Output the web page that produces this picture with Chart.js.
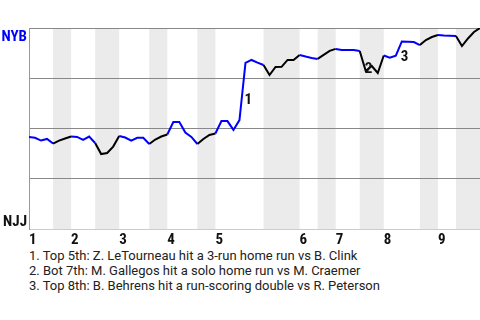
<!DOCTYPE html>
<html>
<head>
<meta charset="utf-8">
<script src="https://cdn.jsdelivr.net/npm/chart.js@4.4.0/dist/chart.umd.min.js"></script>
<style>
  html, body { margin: 0; padding: 0; background: #fff; }
  #wrap { position: relative; width: 480px; height: 248px; }
  #notes { font-family: Roboto, sans-serif; font-size: 13px; line-height: 15px; color: #222; padding-left: 29px; }
</style>
</head>
<body>
<div id="wrap"><canvas id="wp_chart"></canvas></div>
<div id="notes"></div>
<script>
// plate appearance index where each half inning starts (top 1st, bot 1st, ...), last = end of game
const halfStarts = [0, 4, 7, 11, 15, 20, 23, 28, 31, 39, 45, 48, 51, 55, 59, 65, 68, 71, 75];
const inningStarts = [0, 7, 15, 23, 31, 45, 51, 59, 68];
const inningLabels = ['1', '2', '3', '4', '5', '6', '7', '8', '9'];
const teamTop = 'NYB';
const teamBottom = 'NJJ';
// NYB win probability (%) after each plate appearance
const winProb = [
    45.8, 45.4, 44.0, 44.8, 42.5, 44.0, 45.0, 46.0, 45.8, 44.3,
    46.0, 42.8, 37.3, 37.8, 41.0, 46.3, 45.5, 44.0, 45.4, 45.4,
    42.3, 44.5, 46.0, 47.0, 53.2, 53.2, 48.0, 45.8, 42.3, 44.8,
    46.8, 47.5, 53.7, 53.7, 49.3, 54.2, 82.6, 84.1, 82.8, 81.6,
    76.6, 80.6, 80.7, 84.1, 84.1, 86.6, 85.8, 85.1, 84.6, 86.6,
    88.6, 89.6, 89.1, 89.1, 89.1, 88.6, 78.6, 81.1, 77.6, 86.3,
    85.2, 86.2, 93.3, 93.2, 93.0, 91.5, 94.0, 95.5, 96.5, 96.3,
    96.2, 96.0, 91.0, 94.8, 98.0, 100
];
const keyPlays = [36, 56, 62];
const notes = [
    '1. Top 5th: Z. LeTourneau hit a 3-run home run vs B. Clink',
    '2. Bot 7th: M. Gallegos hit a solo home run vs M. Craemer',
    '3. Top 8th: B. Behrens hit a run-scoring double vs R. Peterson'
];

document.addEventListener('DOMContentLoaded', function() {
    document.getElementById('notes').innerHTML = notes.map(n => '<div>' + n + '</div>').join('');

    function isTopHalf(i) {
        let h = 0;
        while (h + 1 < halfStarts.length && halfStarts[h + 1] <= i) h++;
        return h % 2 === 0;
    }

    const labelFamily = "'Roboto Condensed', 'Liberation Sans Narrow', Roboto, sans-serif";

    const halfBands = {
        id: 'halfBands',
        beforeDraw(chart) {
            const {ctx, chartArea: a, scales: {x}} = chart;
            ctx.save();
            ctx.fillStyle = '#ebebeb';
            for (let h = 1; h < halfStarts.length - 1; h += 2) {
                const x0 = x.getPixelForValue(halfStarts[h]);
                const x1 = x.getPixelForValue(halfStarts[h + 1]);
                ctx.fillRect(x0, a.top, x1 - x0, a.bottom - a.top);
            }
            ctx.restore();
        }
    };

    const playLabels = {
        id: 'playLabels',
        afterDatasetsDraw(chart) {
            const {ctx, scales: {x, y}} = chart;
            ctx.save();
            ctx.font = 'bold 15px ' + labelFamily;
            ctx.fillStyle = '#111';
            ctx.textAlign = 'left';
            ctx.textBaseline = 'alphabetic';
            keyPlays.forEach((pa, k) => {
                const mx = (x.getPixelForValue(pa - 1) + x.getPixelForValue(pa)) / 2;
                const my = (y.getPixelForValue(winProb[pa - 1]) + y.getPixelForValue(winProb[pa])) / 2;
                ctx.fillText(String(k + 1), mx + 2, my + 12);
            });
            ctx.restore();
        }
    };

    const axisFont = {family: labelFamily, weight: 'bold', size: 15};

    new Chart(document.getElementById('wp_chart'), {
        type: 'line',
        data: {
            datasets: [{
                label: 'Win probability',
                data: winProb.map((v, i) => ({x: i, y: v})),
                borderWidth: 2,
                pointRadius: 0,
                tension: 0,
                borderColor: '#0000ff',
                segment: {
                    borderColor: c => isTopHalf(c.p0DataIndex) ? '#0000ff' : '#000000'
                }
            }]
        },
        options: {
            responsive: true,
            maintainAspectRatio: false,
            animation: false,
            layout: {padding: {top: 28, left: 0, right: 0, bottom: 0}},
            scales: {
                x: {
                    type: 'linear',
                    min: 0,
                    max: halfStarts[halfStarts.length - 1],
                    afterBuildTicks: s => { s.ticks = inningStarts.map(v => ({value: v})); },
                    afterFit: s => { s.height = 19; s.paddingLeft = 0; s.paddingRight = 0; },
                    grid: {display: false},
                    border: {display: true, color: '#cccccc'},
                    ticks: {
                        align: 'start',
                        autoSkip: false,
                        maxRotation: 0,
                        padding: -6,
                        color: '#111',
                        font: axisFont,
                        callback: (v, i) => inningLabels[i]
                    }
                },
                y: {
                    min: 0,
                    max: 100,
                    afterBuildTicks: s => { s.ticks = [0, 3.5, 25, 50, 75, 95.5, 100].map(v => ({value: v})); },
                    afterFit: s => { s.width = 29; s.paddingTop = 0; s.paddingBottom = 0; },
                    grid: {
                        drawTicks: false,
                        color: c => (c.tick && c.tick.value > 0 && c.tick.value % 25 === 0) ? '#888888' : 'rgba(0,0,0,0)'
                    },
                    border: {display: true, color: '#999999'},
                    ticks: {
                        padding: 2,
                        autoSkip: false,
                        font: axisFont,
                        color: c => c.tick.value === 95.5 ? '#0000ff' : '#111',
                        callback: v => v === 95.5 ? teamTop : (v === 3.5 ? teamBottom : '')
                    }
                }
            },
            plugins: {
                legend: {display: false},
                tooltip: {enabled: false}
            }
        },
        plugins: [halfBands, playLabels]
    });
});
</script>
</body>
</html>
